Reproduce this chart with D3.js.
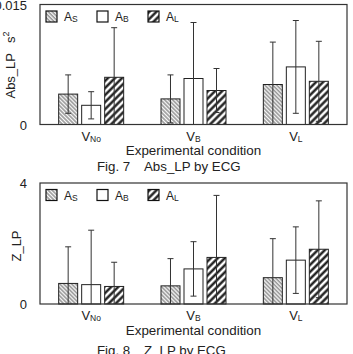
<!DOCTYPE html>
<html>
<head>
<meta charset="utf-8">
<script src="https://cdn.jsdelivr.net/npm/d3@7"></script>
<style>
  body { margin: 0; background: #fff; }
  svg { display: block; font-family: 'Liberation Sans', Arial, sans-serif; }
</style>
</head>
<body>
<div id="chart"></div>
<script>
'use strict';

// conditions on the x axis, rendered as V + subscript
const conditions = ['No', 'B', 'L'];
// groups (legend) rendered as A + subscript
const groups = ['S', 'B', 'L'];

// Fig. 7 Abs_LP (mean, sd) per group, ordered by condition
const absMeanS = [0.0038, 0.0032, 0.0050];
const absMeanB = [0.0024, 0.00575, 0.0072];
const absMeanL = [0.0059, 0.00425, 0.0054];
const absSdS = [0.0024, 0.0030, 0.0053];
const absSdB = [0.0017, 0.0070, 0.0058];
const absSdL = [0.0062, 0.00275, 0.0050];

// Fig. 8 Z_LP
const zMeanS = [0.68, 0.60, 0.87];
const zMeanB = [0.64, 1.16, 1.45];
const zMeanL = [0.58, 1.54, 1.81];
const zSdS = [1.21, 0.90, 1.29];
const zSdB = [1.80, 0.90, 1.10];
const zSdL = [0.80, 2.05, 1.60];

const absTicks = [0, 0.015];
const zTicks = [0, 4];

const W = 353, H = 354;
const svg = d3.select('#chart').append('svg')
    .attr('width', W)
    .attr('height', H);

// hatch patterns
const defs = svg.append('defs');
defs.append('pattern')
    .attr('id', 'hatchS')
    .attr('patternUnits', 'userSpaceOnUse')
    .attr('width', 2.8).attr('height', 2.8)
    .attr('patternTransform', 'rotate(-45)')
    .append('line')
    .attr('x1', 1).attr('x2', 1).attr('y1', 0).attr('y2', 2.8)
    .attr('stroke', '#444').attr('stroke-width', 0.9);
const pl = defs.append('pattern')
    .attr('id', 'hatchL')
    .attr('patternUnits', 'userSpaceOnUse')
    .attr('width', 5).attr('height', 5)
    .attr('patternTransform', 'rotate(45)');
pl.append('rect').attr('width', 5).attr('height', 5).attr('fill', '#fff');
pl.append('line')
    .attr('x1', 1.5).attr('x2', 1.5).attr('y1', 0).attr('y2', 5)
    .attr('stroke', '#111').attr('stroke-width', 2.3);

const fills = {S: 'url(#hatchS)', B: '#fff', L: 'url(#hatchL)'};

function subText(sel, main, sub, size) {
  sel.append('tspan').text(main);
  sel.append('tspan').attr('font-size', size).attr('dy', 1).text(sub);
}

function drawPanel(opt) {
  const left = 40, right = 347;
  const g = svg.append('g');

  const x0 = d3.scaleBand()
      .domain(conditions)
      .range([left, right]);
  const x1 = d3.scaleBand()
      .domain(groups)
      .range([-32.5, 32.5])
      .paddingInner(0.174);
  const y = d3.scaleLinear()
      .domain([0, opt.max])
      .range([opt.bottom, opt.top]);

  const rows = [];
  groups.forEach((k, gi) => {
    conditions.forEach((c, ci) => {
      rows.push({cond: c, grp: k, mean: opt.means[gi][ci], sd: opt.sds[gi][ci]});
    });
  });

  // bars
  g.selectAll('.bar')
      .data(rows)
      .enter().append('rect')
      .attr('x', d => x0(d.cond) + x0.bandwidth() / 2 + x1(d.grp))
      .attr('y', d => y(d.mean))
      .attr('width', x1.bandwidth())
      .attr('height', d => y(0) - y(d.mean))
      .attr('fill', d => fills[d.grp])
      .attr('stroke', '#222')
      .attr('stroke-width', 1);

  // error bars
  const cx = d => x0(d.cond) + x0.bandwidth() / 2 + x1(d.grp) + x1.bandwidth() / 2;
  const lo = d => y(Math.max(0, d.mean - d.sd));
  const hi = d => y(Math.min(opt.max, d.mean + d.sd));
  const eb = g.selectAll('.err').data(rows).enter().append('g')
      .attr('stroke', '#333').attr('stroke-width', 1);
  eb.append('line')
      .attr('x1', cx).attr('x2', cx)
      .attr('y1', lo).attr('y2', hi);
  eb.append('line')
      .attr('x1', d => cx(d) - 3).attr('x2', d => cx(d) + 3)
      .attr('y1', hi).attr('y2', hi);
  eb.filter(d => d.mean - d.sd > 0).append('line')
      .attr('x1', d => cx(d) - 3).attr('x2', d => cx(d) + 3)
      .attr('y1', lo).attr('y2', lo);

  // frame
  g.append('rect')
      .attr('x', left).attr('y', opt.top)
      .attr('width', right - left).attr('height', opt.bottom - opt.top)
      .attr('fill', 'none').attr('stroke', '#333').attr('stroke-width', 1.2);

  // y tick labels
  g.selectAll('.ytick')
      .data(opt.ticks)
      .enter().append('text')
      .attr('x', 27)
      .attr('y', d => y(d) + 5)
      .attr('text-anchor', 'end')
      .attr('font-size', 13)
      .attr('fill', '#222')
      .text(d => d);

  // x category labels
  g.selectAll('.xcat')
      .data(conditions)
      .enter().append('text')
      .attr('x', d => x0(d) + x0.bandwidth() / 2)
      .attr('y', opt.bottom + 16)
      .attr('text-anchor', 'middle')
      .attr('font-size', 13)
      .attr('fill', '#222')
      .each(function(d) { subText(d3.select(this), 'V', d, 8.5); });

  g.append('text')
      .attr('x', (left + right) / 2)
      .attr('y', opt.bottom + 30.5)
      .attr('text-anchor', 'middle')
      .attr('font-size', 13.4)
      .attr('fill', '#222')
      .text('Experimental condition');

  // caption
  g.append('text')
      .attr('x', 97).attr('y', opt.caption)
      .attr('font-size', 13.3).attr('fill', '#222')
      .text(opt.fig);
  g.append('text')
      .attr('x', 144).attr('y', opt.caption)
      .attr('font-size', 13.3).attr('fill', '#222')
      .text(opt.title);

  // y axis title
  const yt = g.append('text')
      .attr('transform', 'translate(' + opt.ytx + ',' + opt.yty + ') rotate(-90)')
      .attr('text-anchor', 'middle')
      .attr('font-size', 13)
      .attr('fill', '#222');
  opt.ylabel(yt);

  // legend
  const lg = g.selectAll('.leg')
      .data(groups)
      .enter().append('g')
      .attr('transform', (d, i) => 'translate(' + (46 + i * 51) + ',' + (opt.top + 6.5) + ')');
  lg.append('rect')
      .attr('width', 11).attr('height', 11)
      .attr('fill', d => fills[d])
      .attr('stroke', '#111').attr('stroke-width', 1.2);
  lg.append('text')
      .attr('x', 18).attr('y', 10)
      .attr('font-size', 12)
      .attr('fill', '#222')
      .each(function(d) { subText(d3.select(this), 'A', d, 8.5); });
}

drawPanel({
  top: 4.5, bottom: 124.5, max: 0.015, ticks: absTicks,
  means: [absMeanS, absMeanB, absMeanL],
  sds: [absSdS, absSdB, absSdL],
  caption: 171, fig: 'Fig. 7', title: 'Abs_LP by ECG',
  ytx: 15, yty: 65,
  ylabel: t => {
    t.append('tspan').text('Abs_LP');
    t.append('tspan').attr('dx', 10).text('s');
    t.append('tspan').attr('font-size', 9).attr('dy', -6).text('2');
  }
});

drawPanel({
  top: 183, bottom: 304, max: 4, ticks: zTicks,
  means: [zMeanS, zMeanB, zMeanL],
  sds: [zSdS, zSdB, zSdL],
  caption: 355, fig: 'Fig. 8', title: 'Z_LP by ECG',
  ytx: 20.5, yty: 246,
  ylabel: t => { t.text('Z_LP'); }
});
</script>
</body>
</html>
